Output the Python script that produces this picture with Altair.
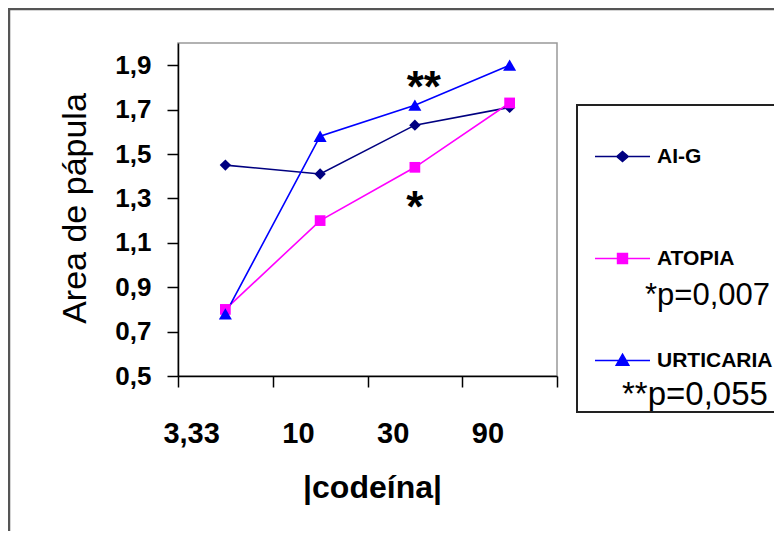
import altair as alt
import pandas as pd

# ---- data ----
doses = ["3,33", "10", "30", "90"]
series_names = ["AI-G", "ATOPIA", "URTICARIA"]
aig = [1.45, 1.41, 1.63, 1.71]
atopia = [0.80, 1.20, 1.44, 1.73]
urticaria = [0.78, 1.58, 1.72, 1.90]
colors = ["#000080", "#FF00FF", "#0000FF"]
shapes = ["diamond", "square", "triangle-up"]
marker_sizes = [130, 115, 170]
legend_paths = [
    "M-5,0H5M-1.05,0L0,-0.9L1.05,0L0,0.9Z",
    "M-5,0H5M-0.9,-0.9H0.9V0.9H-0.9Z",
    "M-5,0H5M0,-1.15L1.15,0.85H-1.15Z",
]
y_ticks = [0.5, 0.7, 0.9, 1.1, 1.3, 1.5, 1.7, 1.9]
stars_two = ["**"]
stars_one = ["*"]
star_dose = ["30"]
star_two_y = [1.735]
star_one_y = [1.195]
p_atopia = ["*p=0,007"]
p_urticaria = ["**p=0,055"]

FONT = "Liberation Sans"

df = pd.DataFrame({
    "dose": doses * 3,
    "serie": [s for s in series_names for _ in doses],
    "area": aig + atopia + urticaria,
})

x_enc = alt.X(
    "dose:N",
    sort=doses,
    scale=alt.Scale(type="band", domain=doses, paddingInner=0, paddingOuter=0),
    axis=alt.Axis(
        title="|codeína|",
        tickBand="extent",
        labelAlign="right",
        labelOffset=-6,
        labelPadding=32,
        labelFont=FONT,
        labelFontSize=29,
        labelFontWeight="bold",
        labelColor="black",
        tickSize=11,
        titleFont=FONT,
        titleFontSize=32,
        titleFontWeight="bold",
        titleColor="black",
        titleBaseline="alphabetic",
        titleX=194,
        titleY=121,
        labelAngle=0,
    ),
)
y_enc = alt.Y(
    "area:Q",
    scale=alt.Scale(domain=[0.5, 2.0], nice=False, zero=False),
    axis=alt.Axis(
        title="Area de pápula",
        values=y_ticks,
        labelExpr="replace(format(datum.value, '.1f'), '.', ',')",
        labelFont=FONT,
        labelFontSize=26,
        labelFontWeight="bold",
        labelColor="black",
        labelPadding=16,
        tickSize=11,
        titleFont=FONT,
        titleFontSize=34,
        titleFontWeight="normal",
        titleColor="black",
        titleBaseline="alphabetic",
        titleAngle=270,
        titleX=-93,
        titleY=165,
    ),
)

color_scale = alt.Scale(domain=series_names, range=colors)

legend = alt.Legend(
    title=None,
    orient="none",
    legendX=399,
    legendY=62,
    padding=41,
    rowPadding=80,
    symbolOffset=-6,
    labelOffset=24,
    labelFont=FONT,
    labelFontSize=21,
    labelFontWeight="bold",
    labelColor="black",
    labelLimit=200,
    symbolSize=121,
    symbolStrokeWidth=1.5,
    symbolOpacity=1,
    strokeColor="#222222",
)

one = pd.DataFrame({"k": [0]})
frame_left = alt.Chart(one).mark_rule(color="#555555", strokeWidth=2.5).encode(
    x=alt.value(-169), y=alt.value(-34), y2=alt.value(700)
)
frame_top = alt.Chart(one).mark_rule(color="#555555", strokeWidth=2.5).encode(
    x=alt.value(-170), x2=alt.value(800), y=alt.value(-34)
)

lines = alt.Chart(df).mark_line(strokeWidth=1.6).encode(
    x=x_enc,
    y=y_enc,
    color=alt.Color("serie:N", scale=color_scale, legend=None),
    detail="serie:N",
)

point_layers = []
for name, shp, sz in zip(series_names, shapes, marker_sizes):
    point_layers.append(
        alt.Chart(df).transform_filter(alt.datum.serie == name)
        .mark_point(filled=True, opacity=1, shape=shp, size=sz)
        .encode(
            x=x_enc,
            y=y_enc,
            color=alt.Color("serie:N", scale=color_scale, legend=None),
        )
    )

# invisible layer that only carries the legend (line + marker symbols)
legend_layer = alt.Chart(df).mark_point(opacity=0, size=121).encode(
    x=x_enc,
    y=y_enc,
    fill=alt.Fill("serie:N", scale=alt.Scale(range=colors), legend=legend),
    stroke=alt.Stroke("serie:N", scale=alt.Scale(range=colors), legend=legend),
    shape=alt.Shape("serie:N", scale=alt.Scale(range=legend_paths), legend=legend),
)

star2 = alt.Chart(pd.DataFrame({"dose": star_dose, "area": star_two_y, "t": stars_two})).mark_text(
    font=FONT, fontSize=44, fontWeight="bold", color="black", align="center",
    baseline="alphabetic", dx=9
).encode(x=x_enc, y=y_enc, text="t:N")

star1 = alt.Chart(pd.DataFrame({"dose": star_dose, "area": star_one_y, "t": stars_one})).mark_text(
    font=FONT, fontSize=44, fontWeight="bold", color="black", align="center",
    baseline="alphabetic", dx=0
).encode(x=x_enc, y=y_enc, text="t:N")

ptext1 = alt.Chart(pd.DataFrame({"t": p_atopia})).mark_text(
    font=FONT, fontSize=31, color="black", align="left", baseline="alphabetic"
).encode(x=alt.value(467), y=alt.value(262), text="t:N")

ptext2 = alt.Chart(pd.DataFrame({"t": p_urticaria})).mark_text(
    font=FONT, fontSize=33, color="black", align="left", baseline="alphabetic"
).encode(x=alt.value(444), y=alt.value(362), text="t:N")

chart = alt.layer(
    frame_left, frame_top, lines, *point_layers, legend_layer, star2, star1, ptext1, ptext2
).properties(
    width=379,
    height=333,
    padding={"left": 170, "top": 35, "right": 217, "bottom": 155},
    autosize=alt.AutoSizeParams(type="none"),
    background="white",
).configure_view(
    stroke="#999999", strokeWidth=1.5
).configure_axis(
    grid=False,
    domainColor="black",
    domainWidth=1.5,
    tickColor="black",
    tickWidth=1.5,
).configure_legend(
    strokeWidth=2
)

chart.save("out.html", embed_options={"renderer": "svg", "actions": False})
